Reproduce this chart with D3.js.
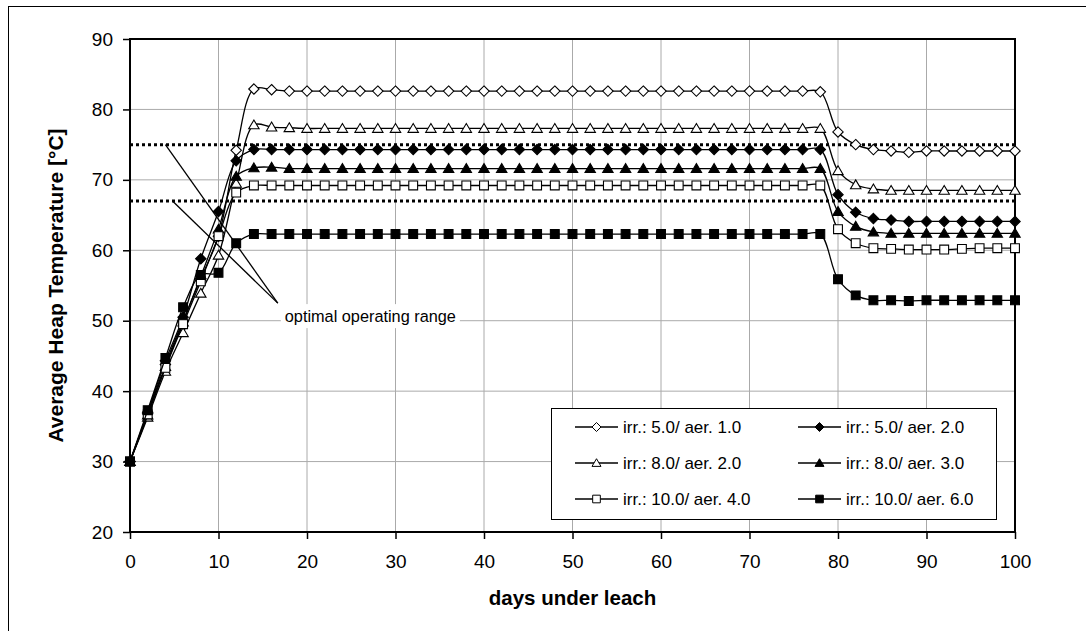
<!DOCTYPE html>
<html>
<head>
<meta charset="utf-8">
<script src="https://cdn.jsdelivr.net/npm/d3@7"></script>
<style>
  body { margin: 0; background: #fff; }
  svg { display: block; font-family: "Liberation Sans", Arial, sans-serif; }
</style>
</head>
<body>
<svg id="chart" width="1086" height="631"></svg>
<script>
// days under leach (every 2 days)
const days = [0, 2, 4, 6, 8, 10, 12, 14, 16, 18, 20, 22, 24, 26, 28, 30, 32, 34, 36, 38, 40, 42, 44, 46, 48, 50,
  52, 54, 56, 58, 60, 62, 64, 66, 68, 70, 72, 74, 76, 78, 80, 82, 84, 86, 88, 90, 92, 94, 96, 98, 100]

// average heap temperature per case
const irr5aer1 = [30, 36.8, 43.8, 50.0, 56.0, 62.0, 74.2, 82.9, 82.8, 82.6, 82.6, 82.6, 82.6, 82.6, 82.6, 82.6, 82.6, 82.6, 82.6, 82.6,
  82.6, 82.6, 82.6, 82.6, 82.6, 82.6, 82.6, 82.6, 82.6, 82.6, 82.6, 82.6, 82.6, 82.6, 82.6, 82.6, 82.6, 82.6, 82.6, 82.5,
  76.8, 75.0, 74.3, 74.1, 73.9, 74.1, 74.1, 74.1, 74.1, 74.1, 74.1]
const irr5aer2 = [30, 37.0, 44.3, 50.5, 58.8, 65.5, 72.7, 74.3, 74.3, 74.3, 74.3, 74.3, 74.3, 74.3, 74.3, 74.3, 74.3, 74.3, 74.3, 74.3,
  74.3, 74.3, 74.3, 74.3, 74.3, 74.3, 74.3, 74.3, 74.3, 74.3, 74.3, 74.3, 74.3, 74.3, 74.3, 74.3, 74.3, 74.3, 74.3, 74.3,
  67.9, 65.4, 64.5, 64.3, 64.1, 64.1, 64.1, 64.1, 64.1, 64.1, 64.1]
const irr8aer2 = [30, 36.3, 42.8, 48.3, 53.9, 59.3, 69.5, 77.8, 77.5, 77.4, 77.3, 77.3, 77.3, 77.3, 77.3, 77.3, 77.3, 77.3, 77.3, 77.3,
  77.3, 77.3, 77.3, 77.3, 77.3, 77.3, 77.3, 77.3, 77.3, 77.3, 77.3, 77.3, 77.3, 77.3, 77.3, 77.3, 77.3, 77.3, 77.3, 77.3,
  71.3, 69.3, 68.7, 68.5, 68.5, 68.5, 68.5, 68.5, 68.5, 68.5, 68.5]
const irr8aer3 = [30, 36.6, 43.5, 49.8, 56.3, 63.0, 70.5, 71.7, 71.8, 71.6, 71.6, 71.6, 71.6, 71.6, 71.6, 71.6, 71.6, 71.6, 71.6, 71.6,
  71.6, 71.6, 71.6, 71.6, 71.6, 71.6, 71.6, 71.6, 71.6, 71.6, 71.6, 71.6, 71.6, 71.6, 71.6, 71.6, 71.6, 71.6, 71.6, 71.6,
  65.5, 63.4, 62.6, 62.4, 62.4, 62.4, 62.4, 62.4, 62.4, 62.4, 62.4]
const irr10aer4 = [30, 36.7, 43.3, 49.5, 55.6, 62.0, 68.2, 69.2, 69.2, 69.2, 69.2, 69.2, 69.2, 69.2, 69.2, 69.2, 69.2, 69.2, 69.2, 69.2,
  69.2, 69.2, 69.2, 69.2, 69.2, 69.2, 69.2, 69.2, 69.2, 69.2, 69.2, 69.2, 69.2, 69.2, 69.2, 69.2, 69.2, 69.2, 69.2, 69.2,
  63.0, 61.0, 60.3, 60.2, 60.1, 60.1, 60.1, 60.2, 60.3, 60.3, 60.3]
const irr10aer6 = [30, 37.3, 44.7, 51.9, 56.5, 56.8, 61.0, 62.3, 62.3, 62.3, 62.3, 62.3, 62.3, 62.3, 62.3, 62.3, 62.3, 62.3, 62.3, 62.3,
  62.3, 62.3, 62.3, 62.3, 62.3, 62.3, 62.3, 62.3, 62.3, 62.3, 62.3, 62.3, 62.3, 62.3, 62.3, 62.3, 62.3, 62.3, 62.3, 62.3,
  55.9, 53.6, 52.9, 52.9, 52.8, 52.9, 52.9, 52.9, 52.9, 52.9, 52.9]

const seriesNames = ['irr.: 5.0/ aer. 1.0', 'irr.: 5.0/ aer. 2.0', 'irr.: 8.0/ aer. 2.0',
  'irr.: 8.0/ aer. 3.0', 'irr.: 10.0/ aer. 4.0', 'irr.: 10.0/ aer. 6.0']
const seriesValues = [irr5aer1, irr5aer2, irr8aer2, irr8aer3, irr10aer4, irr10aer6]
const seriesMarkers = ['diamond', 'diamond', 'triangle', 'triangle', 'square', 'square']
const seriesFilled = [false, true, false, true, false, true]

const xTicks = [0, 10, 20, 30, 40, 50, 60, 70, 80, 90, 100]
const yTicks = [20, 30, 40, 50, 60, 70, 80, 90]

// optimal operating range
const rangeLimits = [75, 67]
const annotationText = 'optimal operating range'

const settings = {
  margin: { top: 39, left: 130, bottom: 99, right: 71 },
  width: 1086,
  height: 631
}
const innerwidth = settings.width - settings.margin.left - settings.margin.right,
  innerheight = settings.height - settings.margin.top - settings.margin.bottom

const svg = d3.select('#chart')

// outer frame of the chart area
svg.append('rect')
  .attr('x', 8.5).attr('y', 6.5)
  .attr('width', 1090).attr('height', 640)
  .attr('fill', 'none').attr('stroke', '#000').attr('stroke-width', 1)

const canvas = svg.append('g')
  .attr('transform', `translate(${settings.margin.left},${settings.margin.top})`)

const xScale = d3.scaleLinear().domain([0, 100]).range([0, innerwidth])
const yScale = d3.scaleLinear().domain([20, 90]).range([innerheight, 0])

// grid
canvas.append('g').selectAll('line').data(xTicks.slice(1, -1)).enter().append('line')
  .attr('x1', d => xScale(d)).attr('x2', d => xScale(d))
  .attr('y1', 0).attr('y2', innerheight)
  .attr('stroke', '#aaa').attr('stroke-width', 1)
canvas.append('g').selectAll('line').data(yTicks.slice(1, -1)).enter().append('line')
  .attr('x1', 0).attr('x2', innerwidth)
  .attr('y1', d => yScale(d)).attr('y2', d => yScale(d))
  .attr('stroke', '#aaa').attr('stroke-width', 1)

// axes
const xAxis = d3.axisBottom(xScale).tickValues(xTicks).tickSize(7).tickPadding(16).tickSizeOuter(0)
const yAxis = d3.axisLeft(yScale).tickValues(yTicks).tickSize(7).tickPadding(10).tickSizeOuter(0)
const xAxisGroup = canvas.append('g').attr('transform', `translate(0,${innerheight})`).call(xAxis)
const yAxisGroup = canvas.append('g').call(yAxis)
;[xAxisGroup, yAxisGroup].forEach(g => {
  g.select('.domain').remove()
  g.selectAll('.tick line').attr('stroke', '#000').attr('stroke-width', 1.5)
  g.selectAll('.tick text').attr('font-size', '19px').attr('fill', '#000')
    .attr('font-family', '"Liberation Sans", Arial, sans-serif')
})

// plot frame
canvas.append('rect')
  .attr('x', 0).attr('y', 0).attr('width', innerwidth).attr('height', innerheight)
  .attr('fill', 'none').attr('stroke', '#000').attr('stroke-width', 2)

// dotted range limits
canvas.append('g').selectAll('line').data(rangeLimits).enter().append('line')
  .attr('x1', 0).attr('x2', innerwidth)
  .attr('y1', d => yScale(d)).attr('y2', d => yScale(d))
  .attr('stroke', '#000').attr('stroke-width', 3).attr('stroke-dasharray', '3 3')

// annotation pointers (data coordinates)
const annoStart = [[4.0, 75], [4.8, 67]]
const annoEnd = [16.7, 52.5]
canvas.append('g').selectAll('line').data(annoStart).enter().append('line')
  .attr('x1', d => xScale(d[0])).attr('y1', d => yScale(d[1]))
  .attr('x2', xScale(annoEnd[0])).attr('y2', yScale(annoEnd[1]))
  .attr('stroke', '#000').attr('stroke-width', 1.3)
const annoG = canvas.append('g')
  .attr('transform', `translate(${xScale(annoEnd[0]) + 7},${yScale(annoEnd[1]) + 19})`)
const annoLabel = annoG.append('text').attr('font-size', '16.3px').text(annotationText)
const bb = annoLabel.node().getBBox()
annoG.insert('rect', 'text')
  .attr('x', bb.x - 4).attr('y', bb.y - 3).attr('width', bb.width + 8).attr('height', bb.height + 6)
  .attr('fill', '#fff')

// markers
const markerPath = (type, s) => {
  if (type === 'diamond') return `M0,${-s}L${s},0L0,${s}L${-s},0Z`
  if (type === 'square') { const h = s * 0.85; return `M${-h},${-h}H${h}V${h}H${-h}Z` }
  return `M0,${-s * 0.95}L${s},${s * 0.75}L${-s},${s * 0.75}Z`
}

const line = d3.line()
  .x((d, i) => xScale(days[i]))
  .y(d => yScale(d))
  .curve(d3.curveCatmullRom.alpha(0.5))

seriesValues.forEach((vals, k) => {
  const g = canvas.append('g')
  g.append('path').attr('d', line(vals))
    .attr('fill', 'none').attr('stroke', '#000').attr('stroke-width', 1.3)
  g.selectAll('.pt').data(vals).enter().append('path')
    .attr('class', 'pt')
    .attr('transform', (d, i) => `translate(${xScale(days[i])},${yScale(d)})`)
    .attr('d', markerPath(seriesMarkers[k], 5.2))
    .attr('fill', seriesFilled[k] ? '#000' : '#fff')
    .attr('stroke', '#000').attr('stroke-width', 1.1)
})

// legend
const legend = svg.append('g').attr('transform', 'translate(551,408)')
legend.append('rect')
  .attr('x', 0.5).attr('y', 0.5).attr('width', 445).attr('height', 111)
  .attr('fill', '#fff').attr('stroke', '#000').attr('stroke-width', 1)
seriesNames.forEach((name, k) => {
  const col = k % 2, row = Math.floor(k / 2)
  const lx = 24 + col * 223, ly = 19 + row * 36
  const item = legend.append('g').attr('transform', `translate(${lx},${ly})`)
  item.append('line').attr('x1', 0).attr('x2', 43).attr('y1', 0).attr('y2', 0)
    .attr('stroke', '#000').attr('stroke-width', 1.3)
  item.append('path').attr('transform', 'translate(21.5,0)')
    .attr('d', markerPath(seriesMarkers[k], 4.5))
    .attr('fill', seriesFilled[k] ? '#000' : '#fff')
    .attr('stroke', '#000').attr('stroke-width', 1)
  item.append('text').attr('x', 48).attr('y', 6)
    .attr('font-size', '17px').text(name)
})

// axis titles
svg.append('text')
  .attr('x', settings.margin.left + innerwidth / 2).attr('y', 605)
  .attr('text-anchor', 'middle').attr('font-size', '20.5px').attr('font-weight', 'bold')
  .text('days under leach')
svg.append('text')
  .attr('transform', `translate(63,${settings.margin.top + innerheight / 2}) rotate(-90)`)
  .attr('text-anchor', 'middle').attr('font-size', '21px').attr('font-weight', 'bold')
  .text('Average Heap Temperature [°C]')
</script>
</body>
</html>
